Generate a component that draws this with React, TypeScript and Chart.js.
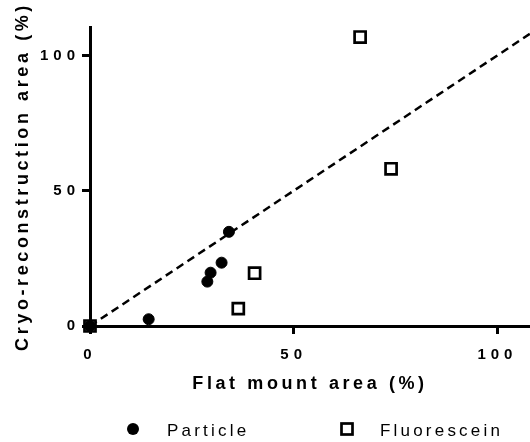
import React, { useEffect, useRef } from 'react';
import { Chart, registerables } from 'chart.js';

Chart.register(...registerables);

// ---- data ----
const SERIES_NAMES = ['Particle', 'Fluorescein'];
const PARTICLE_X = [0, 14.4, 28.8, 29.6, 32.3, 34.1];
const PARTICLE_Y = [0, 2.5, 16.4, 19.7, 23.4, 34.8];
const FLUORESCEIN_X = [0, 36.4, 40.4, 66.3, 73.9];
const FLUORESCEIN_Y = [0, 6.4, 19.5, 106.8, 58.1];
const IDENTITY_LINE = [0, 120];
const X_TICKS = [0, 50, 100];
const Y_TICKS = [0, 50, 100];
const X_RANGE = [0, 108];
const Y_RANGE = [0, 110.5];
const X_TITLE = 'Flat mount area (%)';
const Y_TITLE = 'Cryo-reconstruction area (%)';

const FAMILY = "'Liberation Sans', Arial, Helvetica, sans-serif";

function spacingFor(font: string): string {
  if (/\b18px/.test(font)) return '3.6px';
  if (/\b15px/.test(font)) return '5px';
  if (/\b17px/.test(font)) return '3.2px';
  return '0px';
}

function installLetterSpacing(ctx: any) {
  const desc = Object.getOwnPropertyDescriptor(CanvasRenderingContext2D.prototype, 'font');
  if (!desc || !desc.get || !desc.set) return;
  Object.defineProperty(ctx, 'font', {
    configurable: true,
    get() {
      return desc.get!.call(this);
    },
    set(v: string) {
      desc.set!.call(this, v);
      try {
        (this as any).letterSpacing = spacingFor(v);
      } catch (e) {
        /* ignore */
      }
    },
  });
}

const legendPlugin = {
  id: 'customLegend',
  afterDraw(chart: any) {
    const ctx = chart.ctx;
    const ds = chart.data.datasets;
    const markerY = 429;
    const textY = 431;
    const items = [
      { cx: 133, tx: 167 },
      { cx: 347, tx: 380 },
    ];
    ctx.save();
    items.forEach((it, i) => {
      const d = ds[i];
      if (d.pointStyle === 'circle') {
        ctx.beginPath();
        ctx.arc(it.cx, markerY, 6, 0, Math.PI * 2);
        ctx.fillStyle = d.backgroundColor;
        ctx.fill();
      } else {
        const h = 5.5;
        ctx.fillStyle = d.backgroundColor;
        ctx.fillRect(it.cx - h, markerY - h, 2 * h, 2 * h);
        ctx.lineWidth = d.borderWidth;
        ctx.strokeStyle = d.borderColor;
        ctx.strokeRect(it.cx - h, markerY - h, 2 * h, 2 * h);
      }
      ctx.font = `17px ${FAMILY}`;
      ctx.fillStyle = '#000';
      ctx.textAlign = 'left';
      ctx.textBaseline = 'middle';
      ctx.fillText(d.label, it.tx, textY);
    });
    ctx.restore();
  },
};

export default function App() {
  const ref = useRef<HTMLCanvasElement | null>(null);

  useEffect(() => {
    const canvas = ref.current;
    if (!canvas) return;
    const ctx = canvas.getContext('2d');
    installLetterSpacing(ctx);

    const chart = new Chart(canvas, {
      type: 'scatter',
      data: {
        datasets: [
          {
            label: SERIES_NAMES[0],
            data: PARTICLE_X.map((x, i) => ({ x, y: PARTICLE_Y[i] })),
            pointStyle: 'circle',
            pointRadius: 5.5,
            borderWidth: 1,
            backgroundColor: '#000',
            borderColor: '#000',
            clip: false,
          } as any,
          {
            label: SERIES_NAMES[1],
            data: FLUORESCEIN_X.map((x, i) => ({ x, y: FLUORESCEIN_Y[i] })),
            pointStyle: 'rect',
            pointRadius: 7.8,
            borderWidth: 2.7,
            backgroundColor: '#fff',
            borderColor: '#000',
            clip: false,
          } as any,
          {
            label: 'Identity',
            data: IDENTITY_LINE.map((v) => ({ x: v, y: v })),
            showLine: true,
            borderDash: [8, 5],
            borderWidth: 2.5,
            borderColor: '#000',
            pointRadius: 0,
          } as any,
        ],
      },
      options: {
        responsive: false,
        animation: false,
        devicePixelRatio: 1,
        layout: { autoPadding: false, padding: { top: 27, right: 0, left: 0, bottom: 47.2 } },
        plugins: {
          legend: { display: false },
          tooltip: { enabled: false },
        },
        scales: {
          x: {
            type: 'linear',
            min: X_RANGE[0],
            max: X_RANGE[1],
            afterBuildTicks: (s: any) => {
              s.ticks = X_TICKS.map((v) => ({ value: v }));
            },
            afterFit: (s: any) => {
              s.height = 68.8;
              s.paddingLeft = 0;
              s.paddingRight = 0;
            },
            grid: {
              drawOnChartArea: false,
              drawTicks: true,
              tickLength: 8,
              tickWidth: 3,
              tickColor: '#000',
            },
            border: { display: true, width: 3, color: '#000' },
            ticks: {
              color: '#000',
              padding: 11.5,
              font: { family: FAMILY, size: 15, weight: 'bold' },
              maxRotation: 0,
            },
            title: {
              display: true,
              text: X_TITLE,
              color: '#000',
              font: { family: FAMILY, size: 18, weight: 'bold' },
              padding: { top: 9.7, bottom: 0 },
            },
          },
          y: {
            type: 'linear',
            min: Y_RANGE[0],
            max: Y_RANGE[1],
            afterBuildTicks: (s: any) => {
              s.ticks = Y_TICKS.map((v) => ({ value: v }));
            },
            afterFit: (s: any) => {
              s.width = 90;
              s.paddingTop = 0;
              s.paddingBottom = 0;
            },
            grid: {
              drawOnChartArea: false,
              drawTicks: true,
              tickLength: 8,
              tickWidth: 3,
              tickColor: '#000',
            },
            border: { display: true, width: 3, color: '#000' },
            ticks: {
              color: '#000',
              padding: 2,
              font: { family: FAMILY, size: 15, weight: 'bold' },
            },
            title: {
              display: true,
              text: Y_TITLE,
              color: '#000',
              font: { family: FAMILY, size: 18, weight: 'bold' },
              padding: { top: 12.7, bottom: 0 },
            },
          },
        },
      } as any,
      plugins: [legendPlugin],
    });

    return () => {
      chart.destroy();
    };
  }, []);

  return (
    <div style={{ position: 'fixed', left: 0, top: 0, width: 530, height: 442, background: '#fff' }}>
      <canvas ref={ref} width={530} height={442} style={{ display: 'block', width: 530, height: 442 }} />
    </div>
  );
}
